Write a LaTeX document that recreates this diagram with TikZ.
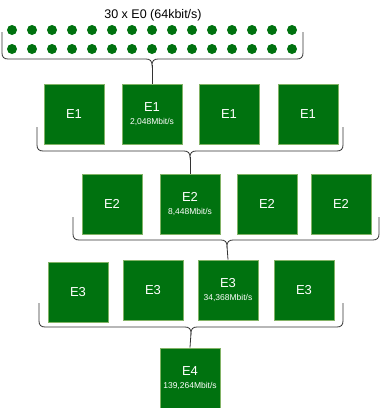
\documentclass[tikz,border=0pt]{standalone}
\usepackage{fontspec}
\setmainfont{Liberation Sans}
\usetikzlibrary{positioning}
\definecolor{egreen}{RGB}{0,114,15}
\definecolor{eline}{RGB}{130,179,102}
\definecolor{ebrace}{RGB}{51,51,51}
\newcommand{\erate}{\fontsize{8.5}{9}\selectfont}
\tikzset{
  ebox/.style={draw=eline, fill=egreen, line width=0.9pt, minimum width=60pt, minimum height=60pt,
    inner sep=0pt, text=white, font=\fontsize{13}{14}\selectfont, align=center},
  edot/.style={circle, fill=egreen, minimum size=10pt, inner sep=0pt},
  ebr/.style={draw=ebrace, line width=0.8pt}
}
% brace: left x, right x, top y, bottom y, centre x, tip name
\newcommand{\ebrace}[6]{%
  \draw[ebr] (#1,#3) -- (#1,#4-6) .. controls (#1,#4-2) and (#1+2,#4) .. (#1+6,#4)
    -- (#5-6,#4) .. controls (#5-2,#4) and (#5,#4+2) .. (#5,#4+6) coordinate (#6)
    .. controls (#5,#4+2) and (#5+2,#4) .. (#5+6,#4)
    -- (#2-6,#4) .. controls (#2-2,#4) and (#2,#4-2) .. (#2,#4-6) -- (#2,#3);}

\begin{document}
\begin{tikzpicture}[x=1pt,y=-1pt]
\useasboundingbox (0,0) rectangle (380,408);
\draw(153,15) node (title) {\fontsize{12.5}{14}\selectfont 30 x E0 (64kbit/s)};
% E0 channels
\foreach \i in {0,...,14} {
  \node[edot] (da\i) at (12+20*\i,30) {};
  \node[edot] (db\i) at (12+20*\i,49) {};
}
\ebrace{2}{303}{32}{59}{152}{t0}
% E1 row
\draw(74,114) node[ebox] (e1a) {E1};
\draw(152,114) node[ebox] (e1b) {E1\\[-1pt]{\erate 2,048Mbit/s}};
\draw(229,114) node[ebox] (e1c) {E1};
\draw(308,114) node[ebox] (e1d) {E1};
\draw[ebr] (t0) -- (e1b.north);
\ebrace{37}{343}{127}{151}{190}{t1}
% E2 row
\draw(112,204) node[ebox] (e2a) {E2};
\draw(190,204) node[ebox] (e2b) {E2\\[-1pt]{\erate 8,448Mbit/s}};
\draw(267,204) node[ebox] (e2c) {E2};
\draw(341,204) node[ebox] (e2d) {E2};
\draw[ebr] (t1) -- (e2b.north);
\ebrace{73}{379}{217}{240}{227}{t2}
% E3 row
\draw(78,292) node[ebox] (e3a) {E3};
\draw(153,290) node[ebox] (e3b) {E3};
\draw(228,290) node[ebox] (e3c) {E3\\[-1pt]{\erate 34,368Mbit/s}};
\draw(304,290) node[ebox] (e3d) {E3};
\draw[ebr] (t2) -- (e3c.north);
\ebrace{39}{343}{303}{327}{191}{t3}
% E4
\draw(190,378) node[ebox] (e4) {E4\\[-1pt]{\erate 139,264Mbit/s}};
\draw[ebr] (t3) -- (e4.north);
\end{tikzpicture}
\end{document}
